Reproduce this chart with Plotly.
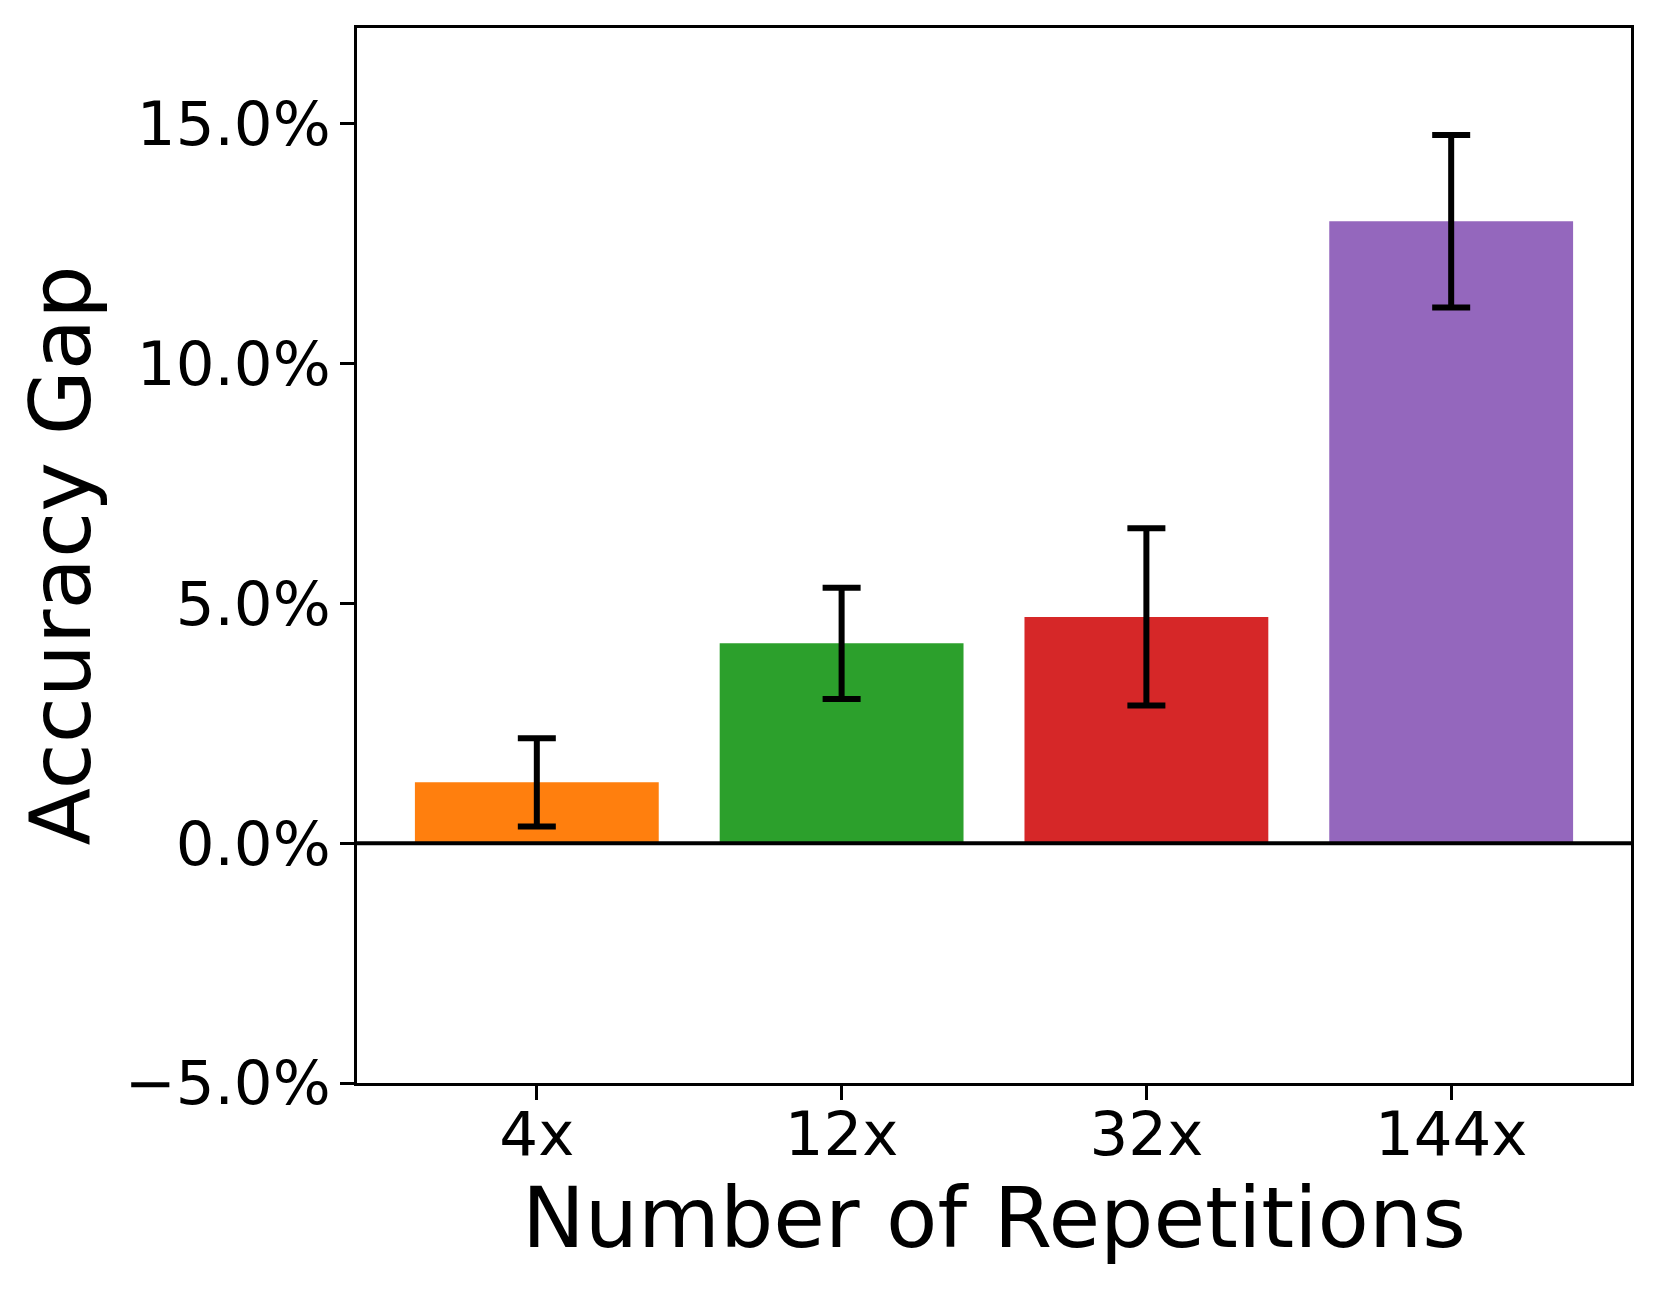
import plotly.graph_objects as go

categories = ["4x", "12x", "32x", "144x"]
gap_values = [1.27, 4.17, 4.72, 12.97]
gap_errors = [0.92, 1.16, 1.85, 1.80]
bar_colors = ["#ff7f0e", "#2ca02c", "#d62728", "#9467bd"]
y_tick_vals = [-5, 0, 5, 10, 15]
y_tick_text = ["\u22125.0%", "0.0%", "5.0%", "10.0%", "15.0%"]

FONT = "DejaVu Sans"

fig = go.Figure()
fig.add_trace(go.Bar(
    x=list(range(len(categories))),
    y=gap_values,
    width=0.8,
    marker=dict(color=bar_colors, line=dict(width=0)),
    error_y=dict(type="data", array=gap_errors, visible=True,
                 color="black", thickness=6, width=19),
    showlegend=False,
))

fig.add_shape(type="line", xref="paper", yref="y", x0=0, x1=1, y0=0, y1=0,
              line=dict(color="black", width=4), layer="above")

fig.update_layout(
    width=1651, height=1285,
    margin=dict(l=349, r=28, t=20, b=210, autoexpand=False),
    paper_bgcolor="white", plot_bgcolor="white",
    font=dict(family=FONT, color="black"),
    bargap=0.2,
)
fig.update_xaxes(
    range=[-0.59, 3.59],
    tickmode="array", tickvals=list(range(len(categories))), ticktext=categories,
    ticks="outside", ticklen=14, tickwidth=3.3, tickcolor="black",
    showline=True, linecolor="black", linewidth=3.3, mirror=True,
    showgrid=False, zeroline=False,
    tickfont=dict(family=FONT, size=61, color="black"),
    ticklabelstandoff=-18,
    title=dict(text="Number of Repetitions", font=dict(family=FONT, size=84, color="black"), standoff=17),
)
fig.update_yaxes(
    range=[-5, 17],
    tickmode="array", tickvals=y_tick_vals, ticktext=y_tick_text,
    ticks="outside", ticklen=14, tickwidth=3.3, tickcolor="black",
    showline=True, linecolor="black", linewidth=3.3, mirror=True,
    showgrid=False, zeroline=False,
    tickfont=dict(family=FONT, size=61, color="black"),
    ticklabelstandoff=-3,
    title=dict(text="Accuracy Gap", font=dict(family=FONT, size=84, color="black"), standoff=7),
)

fig.write_html("out.html")
